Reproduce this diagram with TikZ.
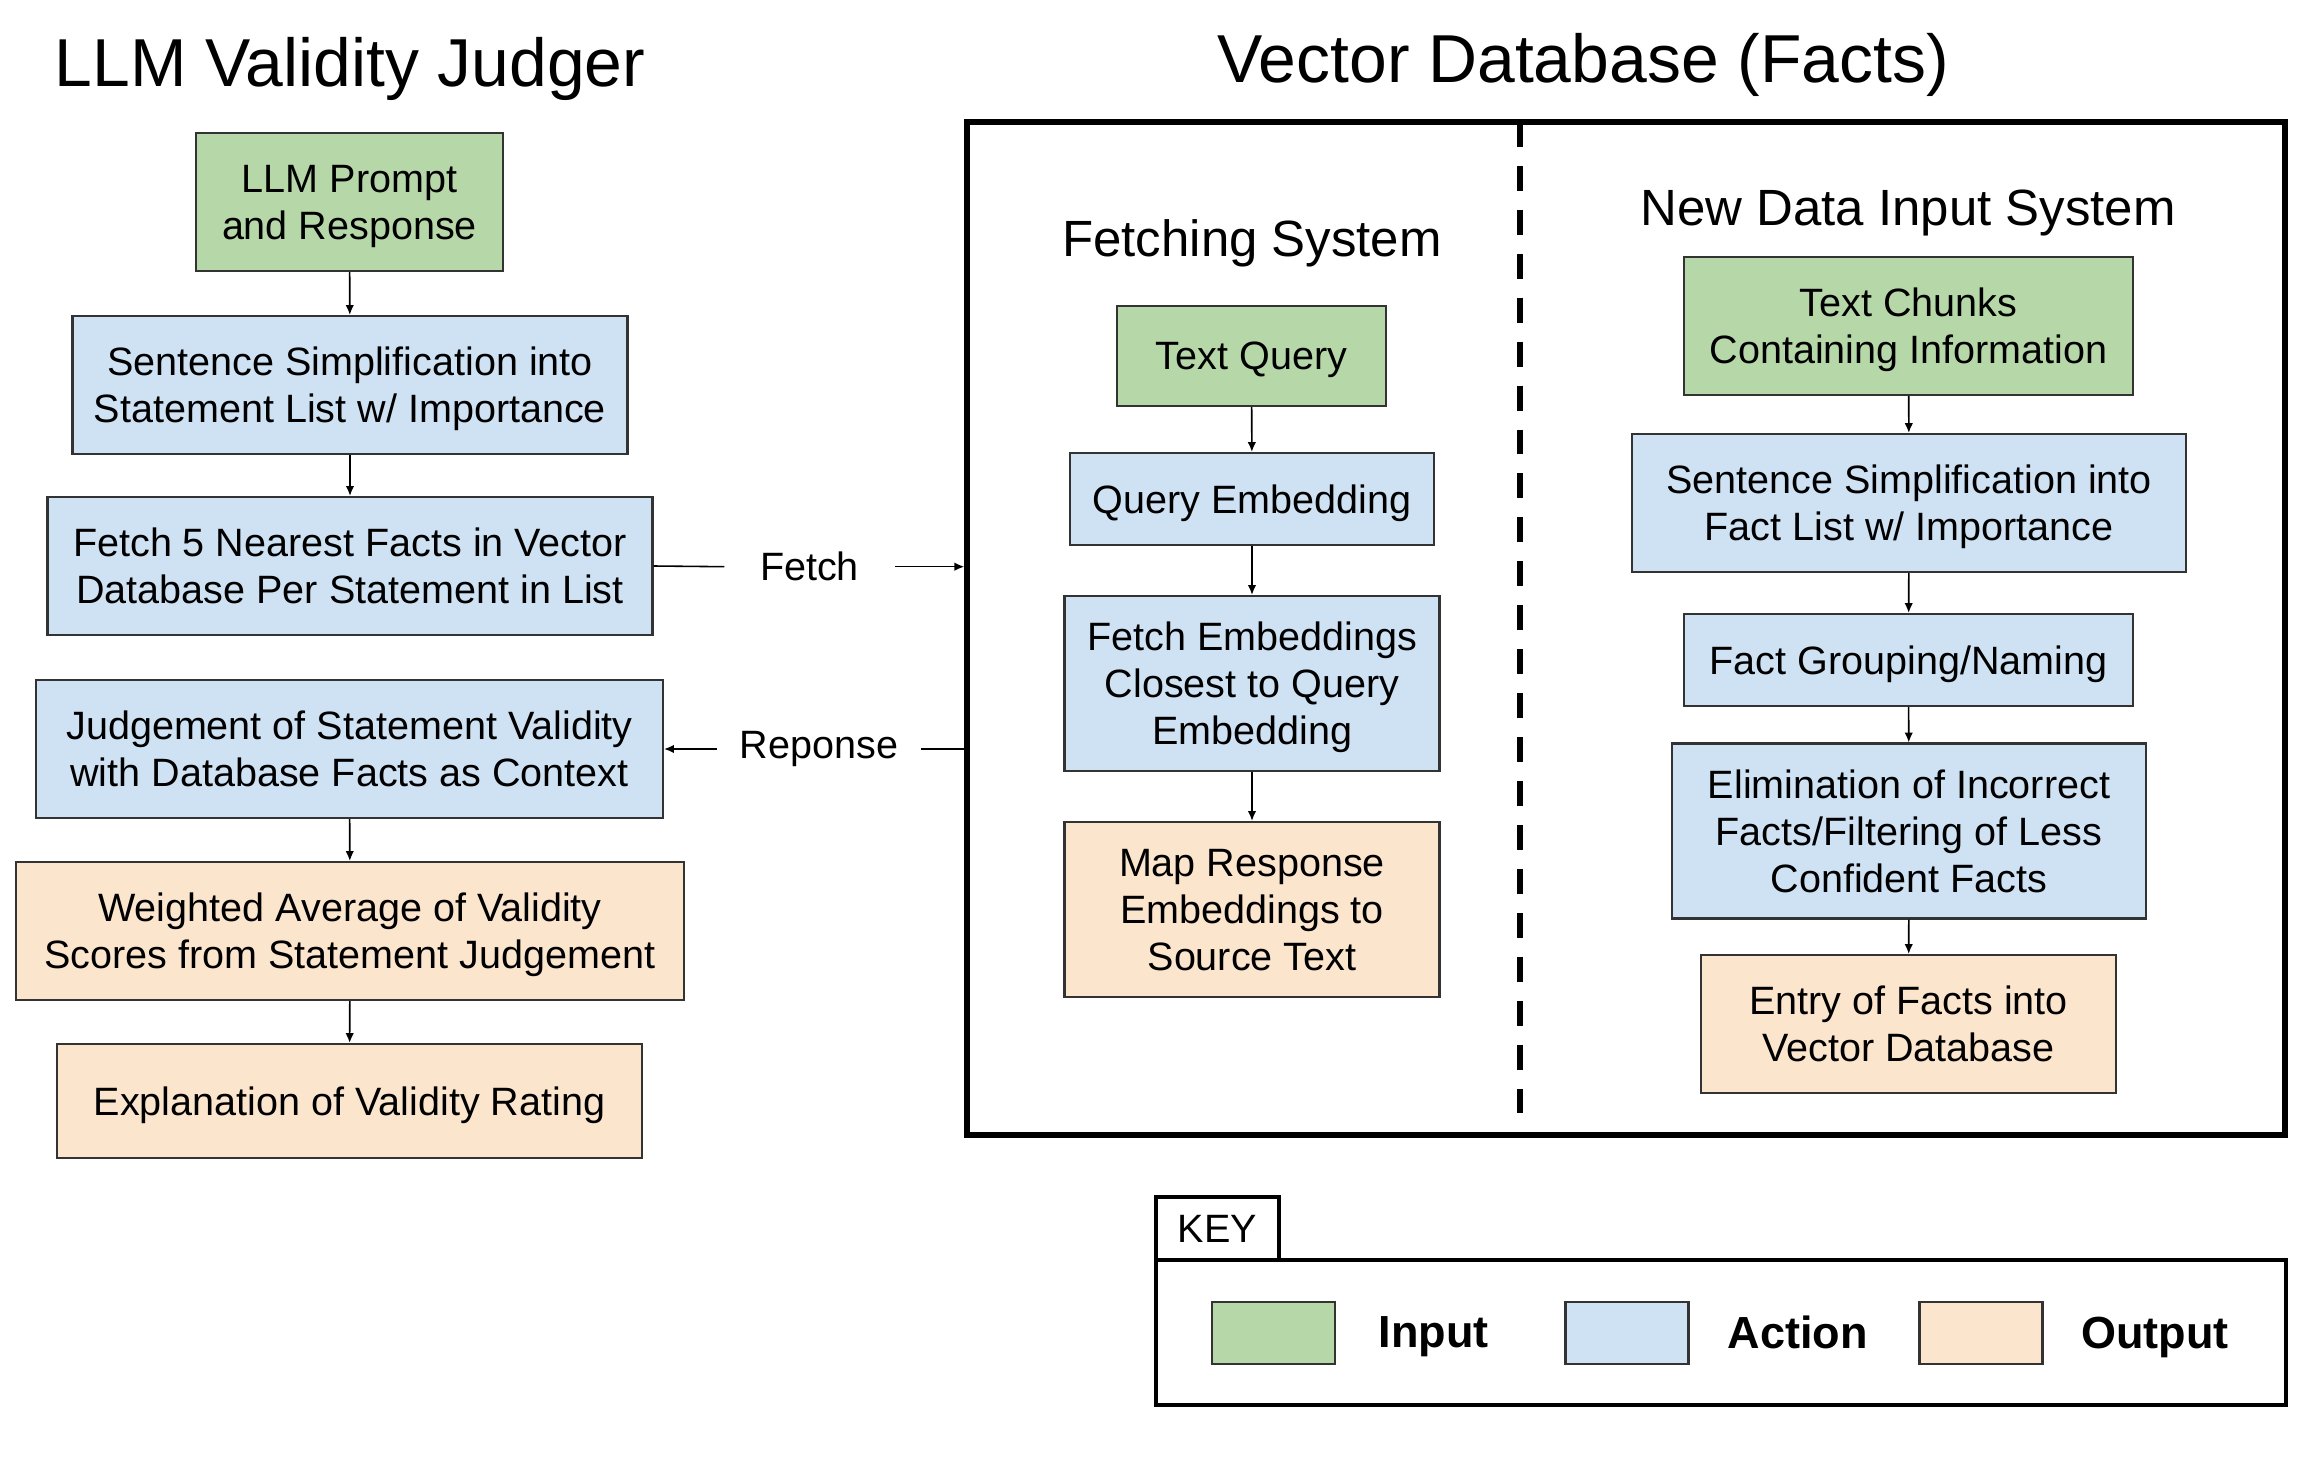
\documentclass[tikz,border=0pt]{standalone}
\usepackage{fontspec}
\setmainfont{Liberation Sans}
\usepackage{tikz}
\usetikzlibrary{arrows.meta}
\usetikzlibrary{positioning}
\definecolor{inputgreen}{HTML}{B6D7A8}
\definecolor{actionblue}{HTML}{CFE2F3}
\definecolor{outputpeach}{HTML}{FCE5CD}
\tikzset{
    block/.style={
        draw=black!80,
        line width=0.6pt,
        rectangle,
        align=center,
        inner sep=2pt,
        text depth=0pt,
        font=\fontsize{11.25}{13.4}\selectfont
    },
    inputbox/.style={block, fill=inputgreen},
    actionbox/.style={block, fill=actionblue},
    outputbox/.style={block, fill=outputpeach},
    swatch/.style={draw=black!80, line width=0.6pt, minimum width=1.23cm, minimum height=0.62cm},
    flow/.style={
        draw,
        -{Latex[length=2.8pt, width=2.4pt]},
        line width=0.45pt
    },
    plain/.style={draw, line width=0.45pt},
    label/.style={font=\fontsize{11.25}{13.4}\selectfont, inner sep=0pt}
}

\begin{document}
\begin{tikzpicture}[y=-1cm,
    title/.style={font=\fontsize{19.3}{23}\selectfont, anchor=base},
    subtitle/.style={font=\fontsize{14.5}{17}\selectfont, anchor=base},
    keytext/.style={font=\fontsize{12.8}{15}\selectfont\bfseries, anchor=base west, inner sep=0pt}]
    \useasboundingbox (0,0) rectangle (23.10,14.64);

    % Titles
    \node[title] (judgertitle) at (3.50,0.87) {LLM Validity Judger};
    \node[title] (dbtitle) at (15.83,0.83) {Vector Database (Facts)};

    % Vector database frame
    \node[draw, line width=1.55pt, minimum width=13.18cm, minimum height=10.13cm] (vdb) at (16.26,6.285) {};
    \draw[line width=1.5pt, dash pattern=on 7.1pt off 5.4pt] (15.20,1.22) -- (15.20,11.35);
    \node[subtitle] (fetchtitle) at (12.52,2.57) {Fetching System};
    \node[subtitle] (inputtitle) at (19.08,2.26) {New Data Input System};

    % Judger column
    \node[inputbox, minimum width=3.07cm, minimum height=1.38cm] (prompt) at (3.495,2.02) {LLM Prompt\\and Response};
    \node[actionbox, minimum width=5.55cm, minimum height=1.38cm] (simp) at (3.50,3.85) {Sentence Simplification into\\Statement List w/ Importance};
    \node[actionbox, minimum width=6.05cm, minimum height=1.38cm] (nearest) at (3.50,5.66) {Fetch 5 Nearest Facts in Vector\\Database Per Statement in List};
    \node[actionbox, minimum width=6.27cm, minimum height=1.38cm] (judge) at (3.495,7.49) {Judgement of Statement Validity\\with Database Facts as Context};
    \node[outputbox, minimum width=6.68cm, minimum height=1.38cm] (weighted) at (3.50,9.31) {Weighted Average of Validity\\Scores from Statement Judgement};
    \node[outputbox, minimum width=5.85cm, minimum height=1.14cm] (explain) at (3.495,11.01) {Explanation of Validity Rating};

    % Fetching system
    \node[inputbox, minimum width=2.69cm, minimum height=1.00cm] (tquery) at (12.515,3.56) {Text Query};
    \node[actionbox, minimum width=3.64cm, minimum height=0.92cm] (qemb) at (12.52,4.99) {Query Embedding};
    \node[actionbox, minimum width=3.75cm, minimum height=1.75cm] (femb) at (12.52,6.835) {Fetch Embeddings\\Closest to Query\\Embedding};
    \node[outputbox, minimum width=3.75cm, minimum height=1.75cm] (mapresp) at (12.52,9.095) {Map Response\\Embeddings to\\Source Text};

    % New data input system
    \node[inputbox, minimum width=4.49cm, minimum height=1.38cm] (chunks) at (19.085,3.26) {Text Chunks\\Containing Information};
    \node[actionbox, minimum width=5.54cm, minimum height=1.38cm] (fsimp) at (19.09,5.03) {Sentence Simplification into\\Fact List w/ Importance};
    \node[actionbox, minimum width=4.49cm, minimum height=0.92cm] (group) at (19.085,6.60) {Fact Grouping/Naming};
    \node[actionbox, minimum width=4.74cm, minimum height=1.75cm] (elim) at (19.09,8.31) {Elimination of Incorrect\\Facts/Filtering of Less\\Confident Facts};
    \node[outputbox, minimum width=4.15cm, minimum height=1.38cm] (entry) at (19.085,10.24) {Entry of Facts into\\Vector Database};

    % Edges
    \draw[flow] (prompt) -- (simp);
    \draw[flow] (simp) -- (nearest);
    \draw[flow] (judge) -- (weighted);
    \draw[flow] (weighted) -- (explain);
    \draw[flow] (tquery) -- (qemb);
    \draw[flow] (qemb) -- (femb);
    \draw[flow] (femb) -- (mapresp);
    \draw[flow] (chunks) -- (fsimp);
    \draw[flow] (fsimp) -- (group);
    \draw[flow] (group) -- (elim);
    \draw[flow] (elim) -- (entry);

    % Fetch / response links
    \node[label, minimum width=1.69cm] (fetchlbl) at (8.095,5.667) {Fetch};
    \node[label, minimum width=2.03cm] (resplbl) at (8.19,7.49) {Reponse};
    \draw[plain] (nearest.east) -- (fetchlbl.west);
    \draw[flow] (fetchlbl.east) -- (fetchlbl -| vdb.west);
    \draw[plain] (resplbl -| vdb.west) -- (resplbl.east);
    \draw[flow] (resplbl.west) -- (judge.east);

    % Key
    \node[draw, line width=1.1pt, minimum width=1.23cm, minimum height=0.63cm, font=\fontsize{11.25}{13.4}\selectfont] (keytab) at (12.175,12.285) {KEY};
    \node[draw, line width=1.1pt, minimum width=11.30cm, minimum height=1.45cm] (keybox) at (17.21,13.325) {};
    \node[swatch, fill=inputgreen] (keyin) at (12.735,13.33) {};
    \node[swatch, fill=actionblue] (keyact) at (16.27,13.33) {};
    \node[swatch, fill=outputpeach] (keyout) at (19.81,13.33) {};
    \node[keytext] (keyinlbl) at (13.78,13.47) {Input};
    \node[keytext] (keyactlbl) at (17.27,13.48) {Action};
    \node[keytext] (keyoutlbl) at (20.805,13.48) {Output};
\end{tikzpicture}
\end{document}
